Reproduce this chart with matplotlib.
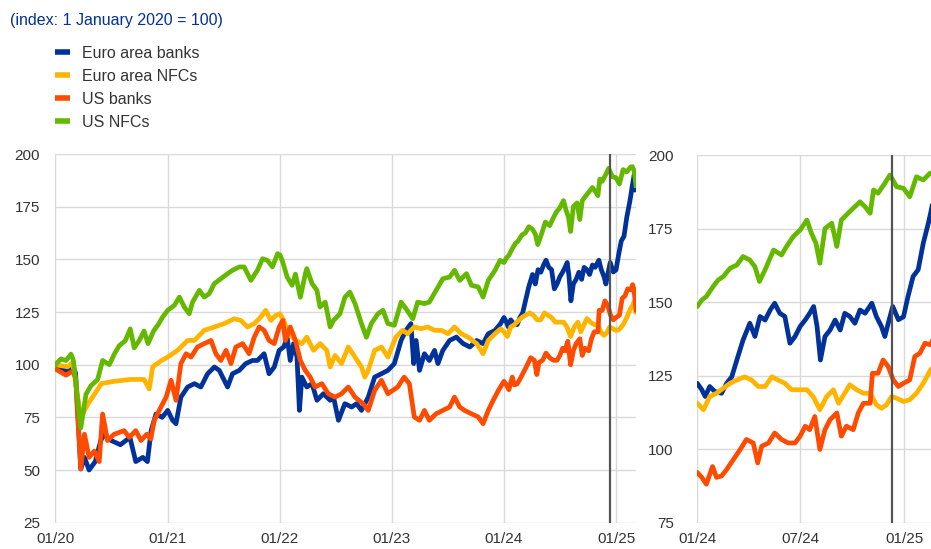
import numpy as np
import matplotlib
matplotlib.use("Agg")
import matplotlib.pyplot as plt
import matplotlib.dates as mdates

plt.rcParams['font.family'] = ['Liberation Sans', 'DejaVu Sans']

# ---- data: days since 2020-01-01 and index values (1 Jan 2020 = 100) ----
ea_banks_day = [0, 18, 40, 56, 66, 83, 95, 110, 130, 148, 160, 182, 212, 243, 262, 285, 300, 312, 328, 348,
                366, 382, 393, 409, 431, 453, 474, 496, 518, 534, 545, 561, 577, 599, 620, 642, 658, 680, 696, 713, 729,
                744, 755, 765, 776, 787, 795, 803, 819, 836, 852, 873, 895, 906, 922, 943, 965, 981, 997, 1019, 1040, 1062, 1083,
                1104, 1126, 1142, 1158, 1167, 1175, 1186, 1202, 1218, 1235, 1246, 1262, 1284, 1306, 1328, 1350, 1372, 1393, 1410, 1432, 1450,
                1461, 1469, 1475, 1483, 1492, 1504, 1513, 1522, 1531, 1542, 1554, 1563, 1572, 1581, 1590, 1598, 1607, 1616, 1625, 1634,
                1643, 1652, 1660, 1667, 1673, 1679, 1687, 1696, 1705, 1714, 1722, 1731, 1740, 1749, 1758, 1770, 1778, 1787, 1793, 1799,
                1807, 1817, 1826, 1834, 1843, 1852, 1861, 1870, 1874, 1879, 1885, 1891]
ea_banks_val = [99, 98, 97, 100, 96, 50.5, 56, 50, 54, 64, 67, 64, 62, 65.5, 54, 56, 54, 68.7, 76.6, 75,
                78.3, 73.6, 72, 84.6, 89.4, 91, 89.4, 95.7, 98.9, 97.3, 94.1, 89.4, 95.7, 97.3, 100.5, 102, 102, 105.2, 95.7, 98.9, 106.8,
                108.4, 113.1, 102, 110, 103.6, 78.3, 94.1, 89.4, 91, 83.1, 86.2, 83.1, 84.6, 73.6, 81.5, 79.9, 81.5, 78.3, 84.6, 94.1, 95.7, 97.3,
                100.5, 111.5, 116.3, 119.5, 100.5, 111.5, 97.3, 105.2, 102, 106.8, 100.5, 106.8, 111.5, 113.1, 110, 108.4, 111.5, 110, 114.7, 116.3, 119.5,
                122.4, 120.2, 117.9, 121.3, 119.6, 119, 122.4, 124.6, 130.3, 137.1, 142.8, 138.3, 145.1, 143.9, 147.3, 149.6, 146.2, 145.1, 136, 138.3,
                141.7, 143.9, 146.2, 148.5, 141.7, 130.3, 138.3, 140.5, 143.9, 140.5, 146.2, 145.1, 142.8, 147.3, 146.2, 149.6, 145.1, 141.7, 138.3, 142.8,
                148.5, 144, 145, 151.9, 158.7, 161, 170, 176.8, 180.2, 185, 190, 183]

ea_nfcs_day = [0, 40, 56, 83, 105, 150, 187, 244, 289, 306, 317, 346,
               366, 398, 431, 453, 485, 518, 550, 583, 604, 626, 648, 669, 685, 702, 718,
               731, 744, 760, 782, 803, 819, 841, 862, 884, 895, 911, 932, 954, 976, 997, 1008, 1019, 1040, 1062, 1083,
               1109, 1131, 1147, 1169, 1191, 1213, 1235, 1257, 1279, 1300, 1322, 1344, 1372, 1393, 1410, 1432, 1450,
               1461, 1472, 1483, 1495, 1507, 1519, 1531, 1545, 1557, 1569, 1581, 1593, 1604, 1616, 1628, 1643, 1655, 1666,
               1678, 1690, 1702, 1711, 1722, 1731, 1743, 1755, 1767, 1778, 1787, 1796, 1805, 1814, 1826, 1837, 1849, 1861,
               1874, 1880, 1885, 1891]
ea_nfcs_val = [100, 99, 101, 75, 81, 91, 92, 93, 93, 88.5, 99, 102,
               103.6, 106.8, 111.5, 111.5, 116.3, 117.9, 119.5, 121.8, 121, 117.9, 119.5, 122.6, 125.8, 121, 123.4,
               124.2, 121, 114.7, 111.5, 110, 113.1, 106.8, 110, 106.8, 98.9, 104.4, 100.5, 108.4, 103.6, 98.9, 94.1, 97.3, 106.8, 108.4, 103.6,
               113.1, 116.3, 114.7, 117.9, 117.1, 117.9, 116.3, 116.3, 114.7, 117.9, 114.7, 113.1, 110, 105.2, 111.5, 114.7, 117,
               115.6, 113.4, 117.9, 119, 120.7, 122.4, 123.5, 124.6, 123.5, 121.3, 121.3, 124.6, 123.5, 122.4, 120.2, 120.2, 120.2, 117.9,
               113.4, 117.9, 120.2, 115.6, 119, 121.9, 120.2, 119, 119, 115.1, 113.9, 115.1, 117.9, 117.3, 116.2, 116.8, 119, 122.4,
               127, 128, 130, 125]

us_banks_day = [0, 35, 56, 66, 83, 95, 110, 127, 143, 154, 170, 192, 224, 241, 262, 279, 298, 311, 322, 344,
                361, 377, 393, 409, 426, 442, 463, 485, 507, 523, 539, 556, 572, 588, 610, 631, 648, 664, 680, 696, 713, 729,
                741, 749, 765, 782, 798, 814, 830, 846, 868, 889, 911, 932, 954, 976, 1002, 1019, 1040, 1062, 1083,
                1115, 1136, 1153, 1169, 1186, 1202, 1218, 1240, 1262, 1284, 1300, 1317, 1333, 1355, 1377, 1393, 1410, 1426, 1443, 1452,
                1461, 1469, 1477, 1488, 1495, 1504, 1513, 1525, 1537, 1548, 1560, 1568, 1575, 1587, 1598, 1610, 1622, 1634,
                1643, 1652, 1660, 1669, 1678, 1687, 1696, 1708, 1716, 1725, 1737, 1746, 1755, 1767, 1771, 1781, 1790, 1799,
                1808, 1817, 1826, 1837, 1846, 1855, 1864, 1874, 1880, 1884, 1887, 1891]
us_banks_val = [98, 95, 97, 94, 50.5, 67, 56, 59, 54, 76.6, 64, 67, 68.7, 65.5, 68.7, 64, 67, 64.7, 73.4, 79.9,
                84.6, 92.6, 83.1, 100.5, 105.2, 103.6, 108.4, 110, 111.5, 105.2, 102, 106.8, 100.5, 108.4, 110, 105.2, 113.1, 117.9, 116.3, 111.5, 110, 117.9,
                121, 111.5, 117.9, 111.5, 102, 97.3, 94.1, 89.4, 91, 86.2, 84.6, 86.2, 89.4, 84.6, 81.5, 78.3, 87.8, 92.6, 86.2,
                89.4, 94.1, 91, 75.2, 73.6, 78.3, 73.6, 76.7, 78.3, 79.9, 84.6, 79.9, 78.3, 76.7, 75.2, 72, 78.3, 83.1, 87.8, 90,
                92.1, 90.4, 88.1, 94.1, 90.4, 90.9, 93.1, 96.5, 99.9, 103.3, 102.1, 95.3, 101, 102.1, 105.5, 103.3, 102.1, 102.1,
                104.4, 107.8, 106.6, 111.1, 99.9, 106.6, 110, 112.3, 104.4, 107.8, 106.6, 112.3, 115.6, 115.6, 125.8, 125.8, 130.3, 128.1,
                123.5, 121.3, 122.4, 123.5, 131.5, 132.6, 136, 135.5, 138, 136, 132, 126]

us_nfcs_day = [0, 18, 35, 51, 59, 83, 100, 116, 138, 154, 176, 192, 208, 228, 244, 257, 273, 289, 302, 320, 335, 349,
               366, 388, 404, 420, 436, 447, 469, 485, 501, 518, 539, 561, 577, 599, 615, 637, 658, 675, 691, 707, 724,
               732, 740, 755, 771, 782, 798, 814, 819, 836, 852, 862, 879, 895, 906, 927, 943, 959, 976, 997, 1013, 1029, 1051, 1067, 1083,
               1104, 1126, 1142, 1164, 1180, 1202, 1218, 1240, 1262, 1284, 1300, 1317, 1339, 1355, 1377, 1393, 1410, 1432, 1448,
               1461, 1469, 1477, 1489, 1498, 1507, 1519, 1531, 1542, 1554, 1563, 1571, 1581, 1596, 1610, 1619, 1631, 1643,
               1655, 1663, 1671, 1678, 1687, 1699, 1708, 1716, 1728, 1740, 1749, 1758, 1767, 1773, 1781, 1793, 1802, 1814,
               1826, 1837, 1849, 1861, 1873, 1879, 1885, 1891]
us_nfcs_val = [100, 102.7, 102, 105, 102, 70, 86, 90, 93, 102, 100, 105, 109, 111.4, 117, 108, 111.4, 116, 110, 116, 119, 122.5,
               125.8, 128.2, 132.1, 127.4, 124.2, 129.7, 135.3, 132.1, 133.7, 138.5, 140.8, 143.2, 144.8, 146.4, 146.4, 140, 144.8, 150.3, 149.5, 146.4, 152.7,
               152, 149, 141.6, 137.7, 143, 132, 143, 145.6, 138.5, 135.3, 127.4, 129.7, 117.9, 121, 124.2, 132, 134.5, 129, 119.5, 113, 119.5, 124.2, 125.8, 119.5,
               118.7, 129.7, 126.6, 121.8, 129.7, 129, 129.7, 135.3, 140.8, 141.6, 144.8, 140, 143.2, 137.7, 136.9, 132.1, 140, 144.8, 149.5,
               148.5, 150.7, 151.9, 155.3, 157.5, 158.7, 161.5, 162.6, 165.5, 164.3, 162, 157, 161, 167.7, 166, 168.9, 172.3, 174.5,
               177.9, 173.4, 170, 163.2, 175, 176.8, 168.9, 177.9, 180.2, 182.4, 184.1, 182.4, 180.2, 188.1, 187, 190.4, 193.2, 189.2,
               188.7, 185.8, 192.6, 191.5, 193.8, 194, 192, 185]

labels = ["Euro area banks", "Euro area NFCs", "US banks", "US NFCs"]
colors = ["#003299", "#FFB400", "#FF4B00", "#65B800"]
marker_date = "2024-12-11"
left_yticks = [25, 50, 75, 100, 125, 150, 175, 200]
right_yticks = [75, 100, 125, 150, 175, 200]

base = np.datetime64("2020-01-01")
def to_dates(days):
    return base + np.array(days).astype("timedelta64[D]")

series = [(ea_banks_day, ea_banks_val), (ea_nfcs_day, ea_nfcs_val),
          (us_banks_day, us_banks_val), (us_nfcs_day, us_nfcs_val)]

W, H = 931, 549
fig = plt.figure(figsize=(W / 100, H / 100), dpi=100)

axL = fig.add_axes([55.3 / W, 1 - 522.7 / H, 580.7 / W, 368.7 / H])
axR = fig.add_axes([697.3 / W, 1 - 522.7 / H, 242.9 / W, 367.7 / H])

grid_c = "#d9d9d9"
text_c = "#333333"

for ax in (axL, axR):
    for (d, v), c, lab in zip(series, colors, labels):
        ax.plot(to_dates(d), v, color=c, lw=3.4, solid_joinstyle="round", label=lab, zorder=3)
    ax.axvline(np.datetime64(marker_date), color="#555555", lw=1.6, zorder=5)
    for s in ax.spines.values():
        s.set_visible(False)
    ax.grid(True, color=grid_c, lw=1.0, zorder=0)
    ax.set_axisbelow(True)
    ax.tick_params(length=0, labelsize=11, colors=text_c)
    ax.xaxis.set_major_formatter(mdates.DateFormatter("%m/%y"))

axL.set_xlim(np.datetime64("2020-01-01"), np.datetime64("2025-03-06"))
axL.set_ylim(25, 200)
axL.set_yticks(left_yticks)
axL.xaxis.set_major_locator(mdates.YearLocator(month=1, day=1))
axL.tick_params(axis="y", pad=11)
axL.tick_params(axis="x", pad=7)

axR.set_xlim(np.datetime64("2024-01-01"), np.datetime64("2025-03-06"))
axR.set_ylim(75, 200)
axR.set_yticks(right_yticks)
axR.xaxis.set_major_locator(mdates.MonthLocator(bymonth=[1, 7]))
axR.tick_params(axis="y", pad=17)
axR.tick_params(axis="x", pad=7)

fig.text(10 / W, 1 - 20 / H, "(index: 1 January 2020 = 100)", color="#003299",
         fontsize=11.5, ha="left", va="center")

handles, labs = axL.get_legend_handles_labels()
leg = fig.legend(handles, labs, loc="upper left", bbox_to_anchor=(55 / W, 1 - 46 / H),
                 frameon=False, fontsize=11.5, handlelength=0.95, handletextpad=0.75,
                 labelspacing=0.5, borderaxespad=0, borderpad=0)
for line in leg.get_lines():
    line.set_linewidth(4)
    line.set_solid_capstyle("butt")
for t in leg.get_texts():
    t.set_color(text_c)

fig.savefig("out.png", dpi=100)
